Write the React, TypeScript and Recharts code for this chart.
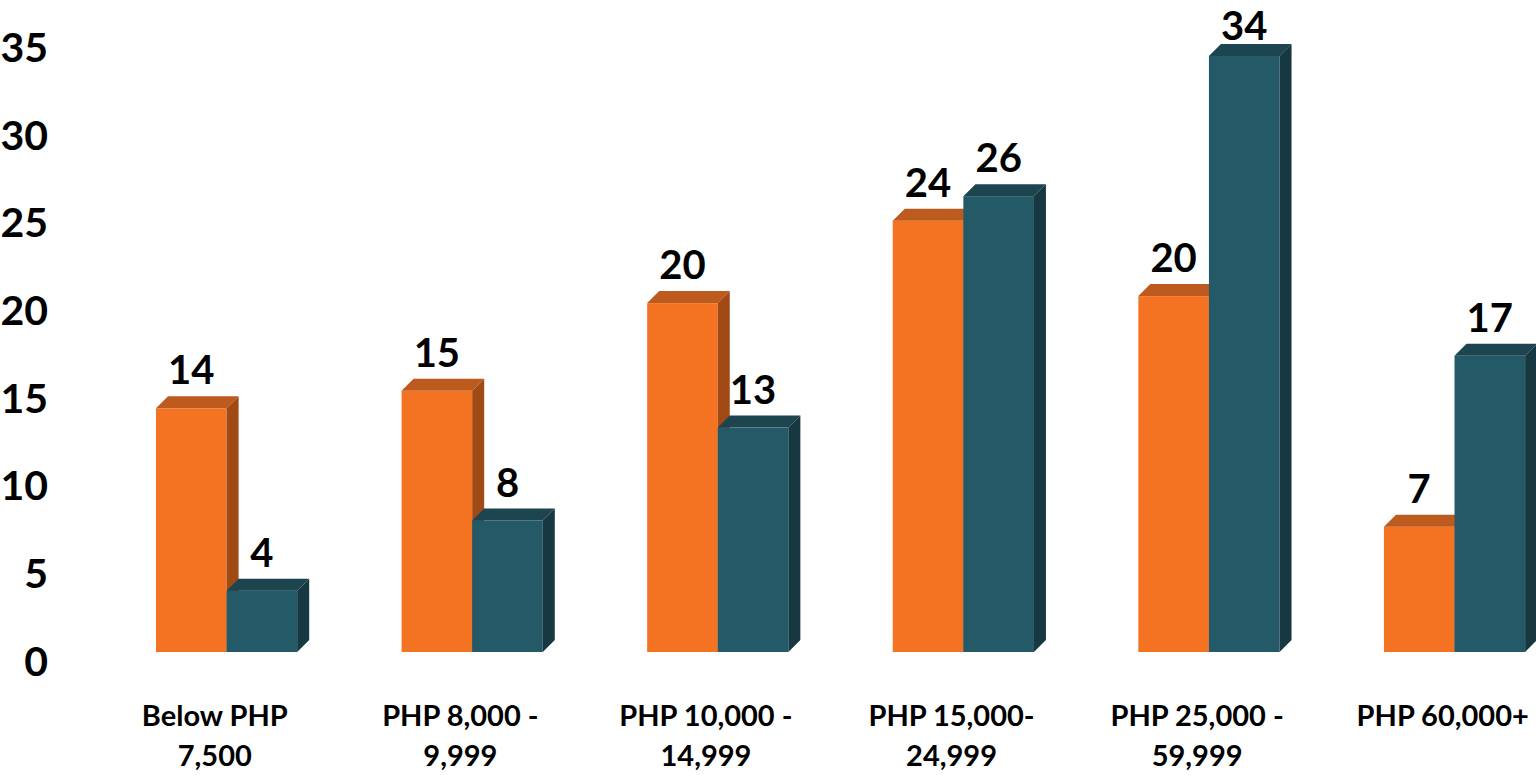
import React from "react";
import { BarChart, Bar, XAxis, YAxis, LabelList } from "recharts";

const categories = [
  "Below PHP\n7,500",
  "PHP 8,000 -\n9,999",
  "PHP 10,000 -\n14,999",
  "PHP 15,000-\n24,999",
  "PHP 25,000 -\n59,999",
  "PHP 60,000+",
];
const orangeValues = [13.9, 14.9, 19.9, 24.6, 20.3, 7.15];
const tealValues = [3.5, 7.5, 12.8, 26.0, 34.0, 16.9];
const orangeLabels = ["14", "15", "20", "24", "20", "7"];
const tealLabels = ["4", "8", "13", "26", "34", "17"];
const yTicks = [0, 5, 10, 15, 20, 25, 30, 35];

const data = categories.map((c, i) => ({
  category: c,
  orange: orangeValues[i],
  teal: tealValues[i],
}));

const FONT = "Lato, 'Open Sans', sans-serif";
const DEPTH = 12;
const LABEL_SIZE = 40;

const make3D = (front: string, top: string, side: string) => (props: any) => {
  const { x, y, width, height } = props;
  if (height == null || width == null) return null;
  const d = DEPTH;
  return (
    <g>
      <rect x={x} y={y} width={width} height={height} fill={front} />
      <polygon
        points={`${x},${y} ${x + d},${y - d} ${x + width + d},${y - d} ${x + width},${y}`}
        fill={top}
      />
      <polygon
        points={`${x + width},${y} ${x + width + d},${y - d} ${x + width + d},${y + height - d} ${x + width},${y + height}`}
        fill={side}
      />
    </g>
  );
};

const OrangeShape = make3D("#F37322", "#BD5A1D", "#A14A15");
const TealShape = make3D("#245968", "#1C4550", "#173841");

const makeLabel = (labels: string[]) => (props: any) => {
  const { x, y, width, index } = props;
  const ty = Math.max(y - 24, LABEL_SIZE);
  return (
    <text
      x={x + width / 2}
      y={ty}
      textAnchor="middle"
      fontFamily={FONT}
      fontWeight={700}
      fontSize={LABEL_SIZE}
      fill="#000"
    >
      {labels[index]}
    </text>
  );
};

const XTick = (props: any) => {
  const { x, y, payload } = props;
  const lines = String(payload.value).split("\n");
  const cx = x - 12;
  return (
    <text
      x={cx}
      y={y}
      textAnchor="middle"
      fontFamily={FONT}
      fontWeight={700}
      fontSize={29}
      fill="#000"
    >
      {lines.map((l, i) => (
        <tspan key={i} x={cx} dy={i === 0 ? 74 : 40}>
          {l}
        </tspan>
      ))}
    </text>
  );
};

const YTick = (props: any) => {
  const { x, y, payload } = props;
  return (
    <text
      x={x}
      y={y + 23.5}
      textAnchor="end"
      fontFamily={FONT}
      fontWeight={700}
      fontSize={41}
      fill="#000"
    >
      {payload.value}
    </text>
  );
};

export default function App() {
  return (
    <div
      style={{
        position: "absolute",
        left: 0,
        top: 0,
        width: 1536,
        height: 775,
        overflow: "hidden",
        background: "#fff",
      }}
    >
      <BarChart
        width={1600}
        height={775}
        data={data}
        margin={{ top: 38.4, right: 22.5, bottom: 0, left: 0 }}
        barGap={0}
        barSize={70.6}
      >
        <XAxis
          dataKey="category"
          axisLine={false}
          tickLine={false}
          tickSize={0}
          tickMargin={0}
          height={123}
          interval={0}
          tick={<XTick />}
        />
        <YAxis
          domain={[0, 35]}
          ticks={yTicks}
          axisLine={false}
          tickLine={false}
          tickSize={0}
          tickMargin={56}
          width={104}
          interval={0}
          tick={<YTick />}
        />
        <Bar dataKey="orange" isAnimationActive={false} shape={OrangeShape}>
          <LabelList dataKey="orange" content={makeLabel(orangeLabels)} />
        </Bar>
        <Bar dataKey="teal" isAnimationActive={false} shape={TealShape}>
          <LabelList dataKey="teal" content={makeLabel(tealLabels)} />
        </Bar>
      </BarChart>
    </div>
  );
}
